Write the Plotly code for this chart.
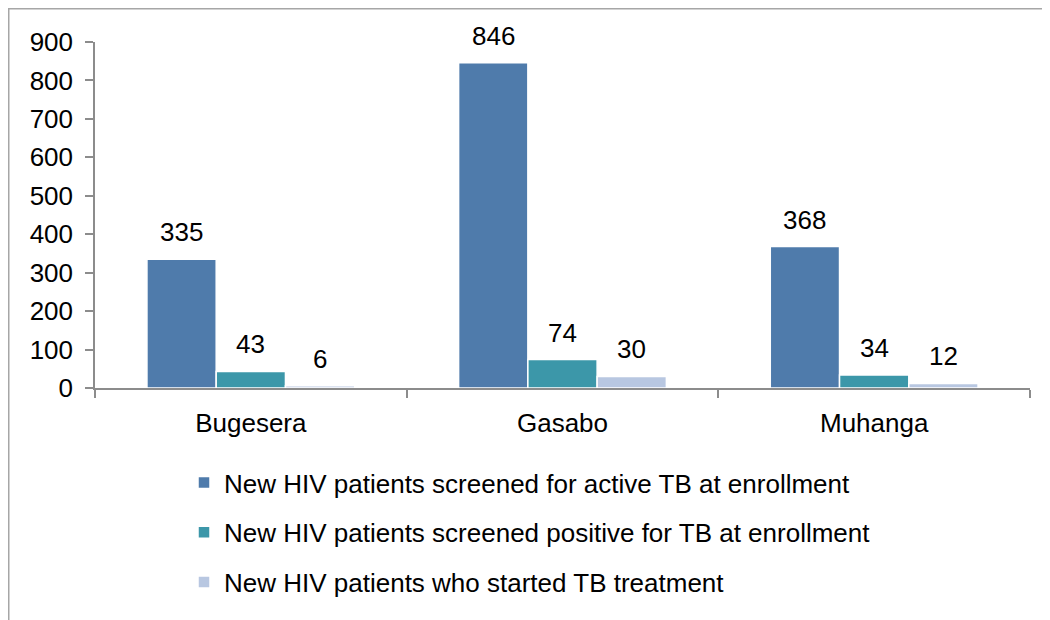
import plotly.graph_objects as go

categories = ["Bugesera", "Gasabo", "Muhanga"]
series_names = [
    "New HIV patients screened for active TB at enrollment",
    "New HIV patients screened positive for TB at enrollment",
    "New HIV patients who started TB treatment",
]
screened = [335, 846, 368]
positive = [43, 74, 34]
treated = [6, 30, 12]
y_ticks = [0, 100, 200, 300, 400, 500, 600, 700, 800, 900]

colors = ["#4F7BAB", "#3C97A9", "#B8C7E1"]
values = [screened, positive, treated]

FONT = "Liberation Sans, Arial, sans-serif"
FS = 26
# page body has 8px margin; figure sized to fit the 1050x620 window
W, H = 1042, 612
L, R, T, B = 87, 20, 34, 232
pw, ph = W - L - R, H - T - B

fig = go.Figure()
for i, (name, vals, c) in enumerate(zip(series_names, values, colors)):
    fig.add_trace(go.Bar(
        x=categories, y=vals, name=name, legendgroup=f"g{i}",
        marker=dict(color=c, line=dict(color="white", width=1.5)),
        hoverinfo="x+y+name",
    ))

# data labels above bars
bar_w = pw / 3 * (2 / 3) / 3
annotations = []
for i, vals in enumerate(values):
    for cat, v in zip(categories, vals):
        annotations.append(dict(
            x=cat, y=v, xref="x", yref="y", text=str(v), showarrow=False,
            xshift=(i - 1) * bar_w, yshift=27, yanchor="middle",
            font=dict(family=FONT, size=FS, color="black"),
        ))

fig.update_layout(
    width=W, height=H,
    margin=dict(l=L, r=R, t=T, b=B, pad=0, autoexpand=False),
    paper_bgcolor="white", plot_bgcolor="white",
    barmode="group", bargap=1 / 3, bargroupgap=0,
    font=dict(family=FONT, size=FS, color="black"),
    showlegend=True,
    legend=dict(
        orientation="v", xref="paper", yref="paper",
        x=(176 - L) / pw, xanchor="left", y=(H - B - 451) / ph, yanchor="top",
        traceorder="grouped", tracegroupgap=13,
        font=dict(family=FONT, size=FS, color="black"),
        bgcolor="rgba(0,0,0,0)",
    ),
    annotations=annotations,
    shapes=[dict(
        type="rect", xref="paper", yref="paper",
        x0=(0.75 - L) / pw, x1=1.2, y0=-1.0, y1=(H - B - 0.75) / ph,
        line=dict(color="#A6A6A6", width=1.5), fillcolor="rgba(0,0,0,0)",
        layer="below",
    )],
)
fig.update_yaxes(
    range=[0, 900], tickvals=y_ticks, showgrid=False, zeroline=False,
    showline=True, linecolor="#8C8C8C", linewidth=1.5,
    ticks="outside", ticklen=8, tickcolor="#8C8C8C", tickwidth=1.5,
    ticklabelstandoff=7, automargin=False,
    tickfont=dict(family=FONT, size=FS, color="black"),
)
fig.update_xaxes(
    showgrid=False, zeroline=False,
    showline=True, linecolor="#8C8C8C", linewidth=1.5,
    ticks="outside", ticklen=8, tickcolor="#8C8C8C", tickwidth=1.5,
    tickson="boundaries", ticklabelstandoff=11, automargin=False,
    tickangle=0,
    tickfont=dict(family=FONT, size=FS, color="black"),
)

fig.write_html("out.html")
